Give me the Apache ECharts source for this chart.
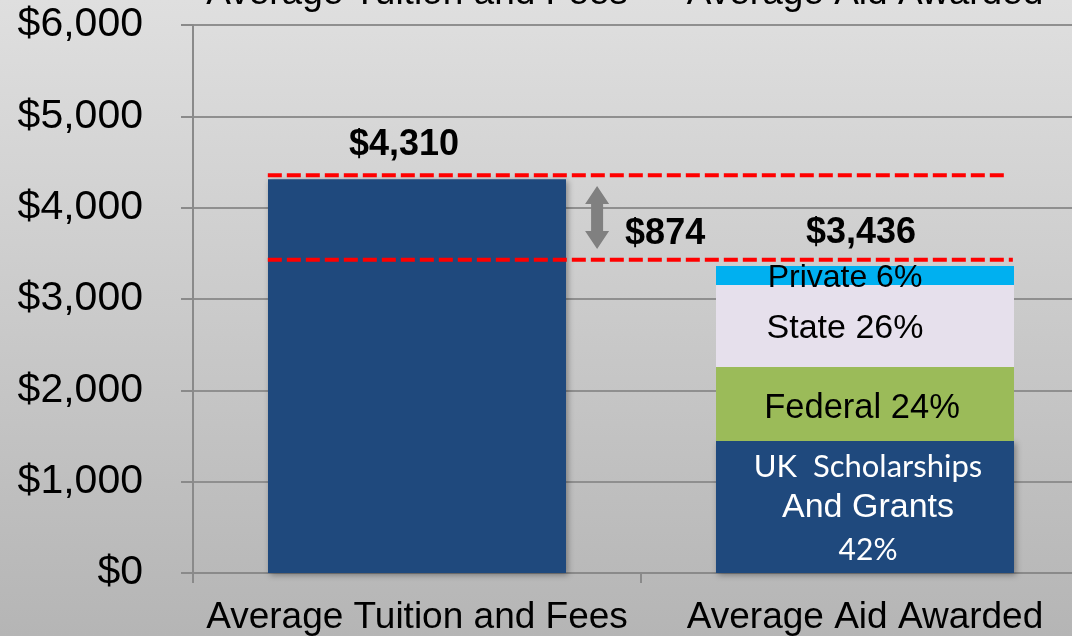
<!DOCTYPE html>
<html>
<head>
<meta charset="utf-8">
<script src="https://cdn.jsdelivr.net/npm/echarts@6/dist/echarts.min.js"></script>
<style>
  html, body { margin: 0; padding: 0; }
  #chart { width: 1072px; height: 636px; }
</style>
</head>
<body>
<div id="chart"></div>
<script>
// categories
var categories = ['Average Tuition and Fees', 'Average Aid Awarded'];
// tuition bar
var tuition = [4310, '-'];
// aid breakdown (stacked)
var ukAid = ['-', 1445];
var federalAid = ['-', 810];
var stateAid = ['-', 898];
var privateAid = ['-', 208];
var aidTotal = 3436;
var aidShares = { uk: '42%', federal: '24%', state: '26%', private: '6%' };
// reference lines and gap arrow (annotation axis runs 0..2 across the plot)
var tuitionLine = [[0.167, 4355], [1.813, 4355]];
var aidLine = [[0.167, 3430], [1.83, 3430]];
var gapArrow = [[0.902, 4237, 3548]];
var gapValue = 874;

function money(v) {
  return '$' + v.toString().replace(/\B(?=(\d{3})+(?!\d))/g, ',');
}

var chart = echarts.init(document.getElementById('chart'));

var font = 'Liberation Sans, Arial, sans-serif';
var barShadow = {
  shadowColor: 'rgba(0,0,0,0.35)',
  shadowBlur: 6,
  shadowOffsetX: 2,
  shadowOffsetY: 2
};

chart.setOption({
  backgroundColor: {
    type: 'linear', x: 0, y: 0, x2: 0, y2: 1,
    colorStops: [
      { offset: 0, color: '#dfdfdf' },
      { offset: 1, color: '#b5b5b5' }
    ]
  },
  animation: false,
  grid: {
    left: 193,
    top: 25,
    width: 896,
    height: 548,
    containLabel: false,
    outerBoundsMode: 'none'
  },
  xAxis: [
    {
      type: 'category',
      data: categories,
      position: 'bottom',
      axisLine: { lineStyle: { color: '#8a8a8a', width: 2 } },
      axisTick: { show: true, length: 10, lineStyle: { color: '#8a8a8a', width: 2 } },
      axisLabel: { interval: 0, fontFamily: font, fontSize: 37, color: '#000', margin: 26 }
    },
    {
      type: 'category',
      data: categories,
      position: 'top',
      axisLine: { show: false },
      axisTick: { show: false },
      axisLabel: { interval: 0, fontFamily: font, fontSize: 37, color: '#000', margin: 13 }
    },
    {
      type: 'value',
      min: 0,
      max: 2,
      show: false
    }
  ],
  yAxis: {
    type: 'value',
    min: 0,
    max: 6000,
    interval: 1000,
    axisLine: { show: true, lineStyle: { color: '#8a8a8a', width: 2 } },
    axisTick: { show: true, length: 12, lineStyle: { color: '#8a8a8a', width: 2 } },
    splitLine: { lineStyle: { color: '#8f8f8f', width: 2 } },
    axisLabel: {
      fontFamily: font,
      fontSize: 41,
      color: '#000',
      margin: 50,
      formatter: function (v) { return money(v); }
    }
  },
  series: [
    {
      name: 'Tuition',
      type: 'bar',
      stack: 'total',
      barWidth: 298,
      data: tuition,
      itemStyle: Object.assign({ color: '#1f497d' }, barShadow),
      label: {
        show: true,
        position: 'top',
        distance: 16,
        offset: [-13, 0],
        fontFamily: font,
        fontWeight: 'bold',
        fontSize: 36,
        color: '#000',
        formatter: function (p) { return money(p.value); }
      }
    },
    {
      name: 'UK Scholarships And Grants',
      type: 'bar',
      stack: 'total',
      barWidth: 298,
      data: ukAid,
      itemStyle: Object.assign({ color: '#1f497d' }, barShadow),
      label: {
        show: true,
        position: 'inside',
        offset: [3, 2],
        formatter: '{a|UK  Scholarships}\n{b|And Grants}\n{c|' + aidShares.uk + '}',
        rich: {
          a: { fontFamily: 'Lato', fontSize: 31, color: '#fff', lineHeight: 40 },
          b: { fontFamily: font, fontSize: 34, color: '#fff', lineHeight: 42 },
          c: { fontFamily: 'Lato', fontSize: 30, color: '#fff', lineHeight: 42 }
        }
      }
    },
    {
      name: 'Federal',
      type: 'bar',
      stack: 'total',
      barWidth: 298,
      data: federalAid,
      itemStyle: { color: '#9bbb59' },
      label: {
        show: true,
        position: 'inside',
        offset: [-3, 4],
        fontFamily: font,
        fontSize: 34.5,
        color: '#000',
        formatter: 'Federal ' + aidShares.federal
      }
    },
    {
      name: 'State',
      type: 'bar',
      stack: 'total',
      barWidth: 298,
      data: stateAid,
      itemStyle: { color: '#e6e0ec' },
      label: {
        show: true,
        position: 'inside',
        offset: [-20, 3],
        fontFamily: font,
        fontSize: 34,
        color: '#000',
        formatter: 'State ' + aidShares.state
      }
    },
    {
      name: 'Private',
      type: 'bar',
      stack: 'total',
      barWidth: 298,
      data: privateAid,
      itemStyle: { color: '#00b0f0' },
      label: {
        show: true,
        position: 'inside',
        offset: [-20, 3],
        fontFamily: font,
        fontSize: 32,
        color: '#000',
        formatter: 'Private ' + aidShares.private
      },
      markPoint: {
        symbol: 'circle',
        symbolSize: 1,
        itemStyle: { color: 'rgba(0,0,0,0)' },
        data: [{ coord: [1, 3361], value: aidTotal }],
        label: {
          show: true,
          position: 'top',
          distance: 16,
          offset: [-4, 2],
          fontFamily: font,
          fontWeight: 'bold',
          fontSize: 36,
          color: '#000',
          formatter: function (p) { return money(p.value); }
        }
      }
    },
    {
      name: 'tuitionLine',
      type: 'line',
      xAxisIndex: 2,
      data: tuitionLine,
      symbol: 'none',
      silent: true,
      z: 5,
      lineStyle: { color: '#ff0000', width: 4, type: [14, 5] }
    },
    {
      name: 'aidLine',
      type: 'line',
      xAxisIndex: 2,
      data: aidLine,
      symbol: 'none',
      silent: true,
      z: 5,
      lineStyle: { color: '#ff0000', width: 4, type: [14, 5] }
    },
    {
      name: 'gap',
      type: 'custom',
      xAxisIndex: 2,
      data: gapArrow,
      z: 6,
      renderItem: function (params, api) {
        var top = api.coord([api.value(0), api.value(1)]);
        var bot = api.coord([api.value(0), api.value(2)]);
        var x = top[0];
        var hw = 12, sw = 6, hh = 18;
        var pts = [
          [x, top[1]],
          [x + hw, top[1] + hh],
          [x + sw, top[1] + hh],
          [x + sw, bot[1] - hh],
          [x + hw, bot[1] - hh],
          [x, bot[1]],
          [x - hw, bot[1] - hh],
          [x - sw, bot[1] - hh],
          [x - sw, top[1] + hh],
          [x - hw, top[1] + hh]
        ];
        return {
          type: 'group',
          children: [
            {
              type: 'polygon',
              shape: { points: pts },
              style: { fill: '#808080' }
            },
            {
              type: 'text',
              style: {
                x: x + 28,
                y: (top[1] + bot[1]) / 2 + 17,
                text: money(gapValue),
                font: 'bold 36px ' + font,
                fill: '#000',
                verticalAlign: 'middle'
              }
            }
          ]
        };
      }
    }
  ]
});
</script>
</body>
</html>
